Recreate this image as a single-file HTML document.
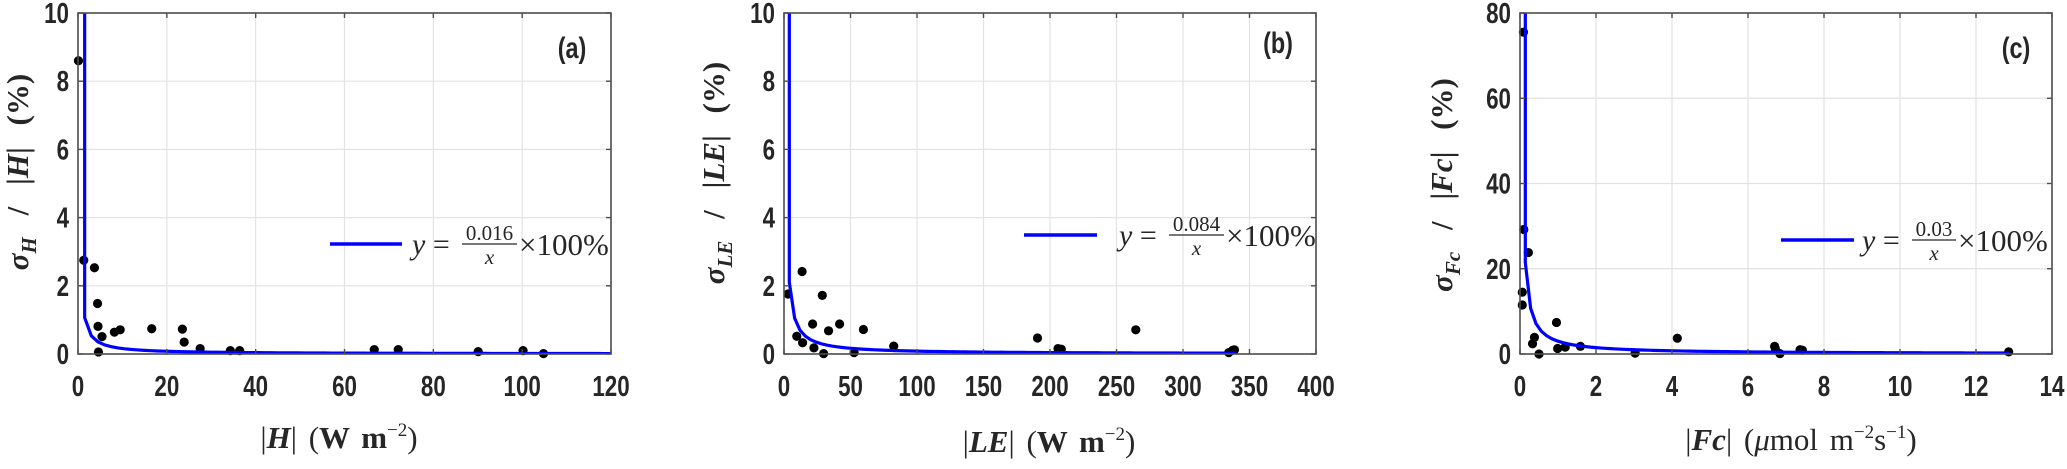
<!DOCTYPE html>
<html><head><meta charset="utf-8">
<style>
html,body{margin:0;padding:0;background:#fff;}
svg{display:block;}
.tick{font-family:"Liberation Sans",sans-serif;font-weight:bold;font-size:26px;fill:#262626;}
.serif{font-family:"Liberation Serif",serif;fill:#262626;}
</style></head>
<body>
<svg id="fig" width="2067" height="469" viewBox="0 0 2067 469" xmlns="http://www.w3.org/2000/svg"></svg>
<script>
// ---- Panel (a) data ----
const aX = [0.1,1.3,3.7,4.4,4.5,4.6,5.4,8.2,9.5,16.6,23.5,23.9,27.5,34.3,36.4,66.7,72.1,90.1,100.2,104.8];
const aY = [8.6,2.75,2.53,1.48,0.81,0.06,0.51,0.64,0.71,0.74,0.73,0.35,0.16,0.10,0.10,0.13,0.13,0.07,0.10,0.01];
const aXTicks = [0,20,40,60,80,100,120];
const aYTicks = [0,2,4,6,8,10];
const aCoef = 0.016;
// ---- Panel (b) data ----
const bX = [3,9.6,13.6,14,21.5,22.5,28.8,29.8,33.5,41.8,52.7,59.7,82.5,190.6,206,208.5,264.5,334.4,337.4,338.7];
const bY = [1.76,0.52,2.42,0.33,0.88,0.18,1.72,0.01,0.68,0.88,0.04,0.72,0.23,0.47,0.16,0.14,0.71,0.04,0.11,0.12];
const bXTicks = [0,50,100,150,200,250,300,350,400];
const bYTicks = [0,2,4,6,8,10];
const bCoef = 0.084;
// ---- Panel (c) data ----
const cX = [0.09,0.1,0.22,0.06,0.06,0.38,0.33,0.5,0.96,0.99,1.19,1.59,3.03,4.14,6.7,6.72,6.84,7.37,7.43,12.86];
const cY = [75.5,29.2,23.8,14.5,11.5,3.9,2.4,0.0,7.4,1.3,1.6,1.8,0.2,3.7,1.8,1.3,0.1,1.0,0.9,0.5];
const cXTicks = [0,2,4,6,8,10,12,14];
const cYTicks = [0,20,40,60,80];
const cCoef = 0.03;

const NS = "http://www.w3.org/2000/svg";
const svg = document.getElementById('fig');
function el(tag, attrs, parent){
  const e = document.createElementNS(NS, tag);
  for (const k in attrs) e.setAttribute(k, attrs[k]);
  (parent||svg).appendChild(e);
  return e;
}

function panel(cfg){
  const g = el('g', {});
  
  
  const L=cfg.left, R=cfg.right, T=13, B=354;
  const xmax = cfg.xt[cfg.xt.length-1], ymax = cfg.yt[cfg.yt.length-1];
  const sx = v => L + (v/xmax)*(R-L);
  const sy = v => B - (v/ymax)*(B-T);
  cfg.xt.forEach(t => { if (t>0 && t<xmax) { const l = el('line',{x1:sx(t),x2:sx(t),y1:T,y2:B,stroke:'#e3e3e3','stroke-width':1.2},g);
      }});
  cfg.yt.forEach(t => { if (t>0 && t<ymax) { const l = el('line',{x1:L,x2:R,y1:sy(t),y2:sy(t),stroke:'#e3e3e3','stroke-width':1.2},g);
      }});
  const cp = el('clipPath',{id:'clip'+cfg.id},g);
  el('rect',{x:L,y:T,width:R-L,height:B-T},cp);
  cfg.xs.forEach((v,i) => {
    const c = el('circle',{cx:sx(v),cy:sy(cfg.ys[i]),r:4.6,fill:'#000'},g);
    
    
  });
  const step = cfg.step;
  let pts = [[sx(step), T-5]];
  for (let x=step; x<=cfg.xend; x+=step) pts.push([sx(x), sy(cfg.coef*100/x)]);
  const p = el('polyline',{points:pts.map(q=>q.join(',')).join(' '),fill:'none',stroke:'#0000ff','stroke-width':3.2,'clip-path':'url(#clip'+cfg.id+')'},g);
  
  
  const box = el('rect',{x:L,y:T,width:R-L,height:B-T,fill:'none',stroke:'#4d4d4d','stroke-width':1.6},g);
  
  
  cfg.xt.forEach(t => {
    el('line',{x1:sx(t),x2:sx(t),y1:B,y2:B-5,stroke:'#4d4d4d','stroke-width':1.4},g);
    el('line',{x1:sx(t),x2:sx(t),y1:T,y2:T+5,stroke:'#4d4d4d','stroke-width':1.4},g);
    const tx = el('text',{x:0,y:0,'text-anchor':'middle',class:'tick',transform:'translate('+sx(t)+',396) scale(0.86,1.12)'},g);
    tx.textContent = t;
    
    
  });
  cfg.yt.forEach(t => {
    el('line',{x1:L,x2:L+5,y1:sy(t),y2:sy(t),stroke:'#4d4d4d','stroke-width':1.4},g);
    el('line',{x1:R,x2:R-5,y1:sy(t),y2:sy(t),stroke:'#4d4d4d','stroke-width':1.4},g);
    const ty = el('text',{x:0,y:0,'text-anchor':'end',class:'tick',transform:'translate('+(L-9)+','+(sy(t)+10)+') scale(0.86,1.12)'},g);
    ty.textContent = t;
    
    
  });
  const pl = el('text',{x:0,y:0,'text-anchor':'middle',class:'tick','font-size':'27',transform:'translate('+cfg.lab[0]+','+cfg.lab[1]+') scale(0.9,1.15)'},g);
  pl.textContent = '('+cfg.id+')';
  
  
  const lg = el('g',{},g);
  
  
  el('line',{x1:cfg.leg[0],x2:cfg.leg[1],y1:cfg.leg[2],y2:cfg.leg[2],stroke:'#0000ff','stroke-width':3.5},lg);
  const tx0 = cfg.leg[3], ly = cfg.leg[2];
  const t1 = el('text',{x:tx0,y:ly+10,class:'serif','font-size':'30'},lg);
  t1.innerHTML = '<tspan font-style="italic">y</tspan> =';
  const fw = cfg.num.length*11;
  const fx = tx0+50;
  const n = el('text',{x:fx+fw/2,y:ly-4,class:'serif','font-size':'21','text-anchor':'middle'},lg); n.textContent = cfg.num;
  el('line',{x1:fx,x2:fx+fw,y1:ly,y2:ly,stroke:'#262626','stroke-width':1.2},lg);
  const d = el('text',{x:fx+fw/2,y:ly+20,class:'serif','font-size':'21','text-anchor':'middle','font-style':'italic'},lg); d.textContent = 'x';
  const t2 = el('text',{x:fx+fw+2,y:ly+11,class:'serif','font-size':'31'},lg); t2.textContent = '×100%';
  const xl = el('text',{x:cfg.xl[0],y:cfg.xl[1],'text-anchor':'middle',class:'serif','font-size':'31','word-spacing':'4'},g);
  xl.innerHTML = cfg.xlabel;
  
  
  const yl = el('text',{x:0,y:0,'text-anchor':'middle',class:'serif','font-size':'31','font-weight':'bold','word-spacing':'14',transform:'translate('+cfg.yl[0]+','+cfg.yl[1]+') rotate(-90)'},g);
  yl.innerHTML = cfg.ylabel;
  
  
}

panel({id:'a',left:78,right:611,xs:aX,ys:aY,xt:aXTicks,yt:aYTicks,coef:aCoef,step:1.5,xend:120,
  lab:[572,58],leg:[330,402,244,412],num:'0.016',xl:[339,448],yl:[28,172],
  xlabel:'|<tspan font-style="italic" font-weight="bold">H</tspan>| (<tspan font-weight="bold">W m</tspan><tspan font-size="19" dy="-12">−2</tspan><tspan dy="12">)</tspan>',
  ylabel:'<tspan font-style="italic">σ</tspan><tspan font-style="italic" font-size="21" dy="8">H</tspan><tspan dy="-8"> / |</tspan><tspan font-style="italic">H</tspan>| (%)'});
panel({id:'b',left:784,right:1316,xs:bX,ys:bY,xt:bXTicks,yt:bYTicks,coef:bCoef,step:4,xend:340,
  lab:[1278,53],leg:[1024,1097,235,1119],num:'0.084',xl:[1049,452],yl:[724,173],
  xlabel:'|<tspan font-style="italic" font-weight="bold">LE</tspan>| (<tspan font-weight="bold">W m</tspan><tspan font-size="19" dy="-12">−2</tspan><tspan dy="12">)</tspan>',
  ylabel:'<tspan font-style="italic">σ</tspan><tspan font-style="italic" font-size="21" dy="8">LE</tspan><tspan dy="-8"> / |</tspan><tspan font-style="italic">LE</tspan>| (%)'});
panel({id:'c',left:1520,right:2052,xs:cX,ys:cY,xt:cXTicks,yt:cYTicks,coef:cCoef,step:0.14,xend:12.9,
  lab:[2016,58],leg:[1781,1854,240,1862],num:'0.03',xl:[1801,450],yl:[1452,185],
  xlabel:'|<tspan font-style="italic" font-weight="bold">Fc</tspan>| (<tspan font-style="italic">μ</tspan>mol m<tspan font-size="19" dy="-12">−2</tspan><tspan dy="12">s</tspan><tspan font-size="19" dy="-12">−1</tspan><tspan dy="12">)</tspan>',
  ylabel:'<tspan font-style="italic">σ</tspan><tspan font-style="italic" font-size="21" dy="8">Fc</tspan><tspan dy="-8"> / |</tspan><tspan font-style="italic">Fc</tspan>| (%)'});
</script>
</body></html>
